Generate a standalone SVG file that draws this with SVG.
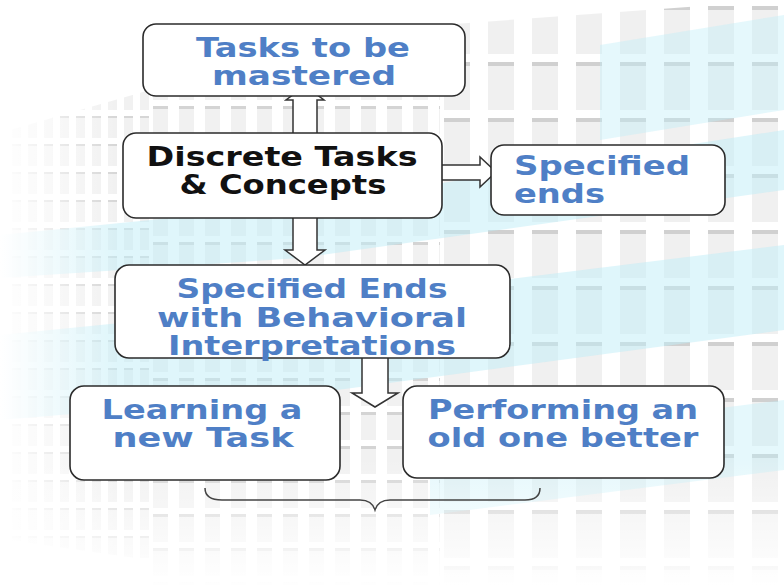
<svg xmlns="http://www.w3.org/2000/svg" width="784" height="586" viewBox="0 0 784 586">
<style>
.box{fill:#fff;stroke:#2b2b2b;stroke-width:1.6}
.t{font-family:"DejaVu Sans",sans-serif;font-weight:bold;font-size:27px;fill:#4f7fc6;text-anchor:middle}
.k{fill:#111}
.arr{fill:#fff;stroke:#333;stroke-width:1.5;stroke-linejoin:miter}
.brace{fill:none;stroke:#444;stroke-width:1.5}
</style>
<defs>
<pattern id="pS" x="10" y="0" width="16" height="28" patternUnits="userSpaceOnUse">
<rect x="2" y="6" width="9" height="20" fill="#f1f1f1"/>
<rect x="2" y="4" width="9" height="2" fill="#d6d6d6"/>
</pattern>
<pattern id="pM" x="150" y="0" width="26" height="34" patternUnits="userSpaceOnUse">
<rect x="3" y="7" width="15" height="25" fill="#f1f1f1"/>
<rect x="3" y="4" width="15" height="3" fill="#d4d4d4"/>
</pattern>
<pattern id="pL" x="440" y="0" width="44" height="56" patternUnits="userSpaceOnUse">
<rect x="4" y="10" width="26" height="44" fill="#f0f0f0"/>
<rect x="4" y="6" width="26" height="4" fill="#d0d0d0"/>
</pattern>
<linearGradient id="fadeL" x1="0" x2="1" y1="0" y2="0">
<stop offset="0" stop-color="#fff" stop-opacity="1"/>
<stop offset="0.15" stop-color="#fff" stop-opacity="0"/>
</linearGradient>
<linearGradient id="fadeB" x1="0" x2="0" y1="0" y2="1">
<stop offset="0.78" stop-color="#fff" stop-opacity="0"/>
<stop offset="1" stop-color="#fff" stop-opacity="1"/>
</linearGradient>
</defs>
<rect width="784" height="586" fill="#fff"/>
<g id="background">
<polygon points="10,130 150,90 150,560 10,540" fill="url(#pS)"/>
<polygon points="150,90 440,25 440,586 150,586" fill="url(#pM)"/>
<polygon points="440,25 784,0 784,586 440,586" fill="url(#pL)"/>
<polygon points="0,235 300,205 784,130 784,190 300,258 0,278" fill="#bfeef8" opacity="0.5"/>
<polygon points="0,335 300,305 784,245 784,330 300,395 0,420" fill="#bfeef8" opacity="0.5"/>
<polygon points="430,445 784,400 784,470 430,515" fill="#bfeef8" opacity="0.4"/>
<polygon points="600,45 784,15 784,110 600,140" fill="#bfeef8" opacity="0.4"/>
<rect width="784" height="586" fill="url(#fadeL)"/>
<rect width="784" height="586" fill="url(#fadeB)"/>
</g>
<g id="connectors">
<polygon class="arr" points="293,218 293,100 286,100 305,86 324,100 317,100 317,218"/>
<polygon class="arr" points="293,215 293,250 285,250 305,265 325,250 317,250 317,215"/>
<polygon class="arr" points="440,165 480,165 480,157 496,172 480,187 480,180 440,180"/>
<polygon class="arr" points="362,355 362,393 352,393 375,407 398,393 388,393 388,355"/>
<path class="brace" d="M205,488 Q205,500 222,500 L360,500 Q372,500 375,510 Q378,500 390,500 L525,500 Q540,500 540,488"/>
</g>
<g id="n1">
<rect class="box" x="143" y="24" width="322" height="72" rx="13"/>
<text class="t" x="303" y="57" textLength="214" lengthAdjust="spacingAndGlyphs">Tasks to be</text>
<text class="t" x="304" y="85" textLength="184" lengthAdjust="spacingAndGlyphs">mastered</text>
</g>
<g id="n2">
<rect class="box" x="123" y="133" width="319" height="85" rx="13"/>
<text class="t k" x="282" y="166" textLength="271" lengthAdjust="spacingAndGlyphs">Discrete Tasks</text>
<text class="t k" x="283" y="194" textLength="207" lengthAdjust="spacingAndGlyphs">&amp; Concepts</text>
</g>
<g id="n3">
<rect class="box" x="491" y="145" width="234" height="70" rx="13"/>
<text class="t" x="514" y="175" style="text-anchor:start" textLength="176" lengthAdjust="spacingAndGlyphs">Specified</text>
<text class="t" x="514" y="203" style="text-anchor:start" textLength="91" lengthAdjust="spacingAndGlyphs">ends</text>
</g>
<g id="n4">
<rect class="box" x="115" y="265" width="395" height="93" rx="14"/>
<text class="t" x="312" y="298" textLength="271" lengthAdjust="spacingAndGlyphs">Specified Ends</text>
<text class="t" x="312" y="327" textLength="310" lengthAdjust="spacingAndGlyphs">with Behavioral</text>
<text class="t" x="312" y="355" textLength="288" lengthAdjust="spacingAndGlyphs">Interpretations</text>
</g>
<g id="n5">
<rect class="box" x="70" y="386" width="270" height="94" rx="14"/>
<text class="t" x="202" y="419" textLength="201" lengthAdjust="spacingAndGlyphs">Learning a</text>
<text class="t" x="203" y="447" textLength="181" lengthAdjust="spacingAndGlyphs">new Task</text>
</g>
<g id="n6">
<rect class="box" x="403" y="386" width="321" height="92" rx="14"/>
<text class="t" x="563" y="419" textLength="270" lengthAdjust="spacingAndGlyphs">Performing an</text>
<text class="t" x="563" y="447" textLength="271" lengthAdjust="spacingAndGlyphs">old one better</text>
</g>
</svg>
